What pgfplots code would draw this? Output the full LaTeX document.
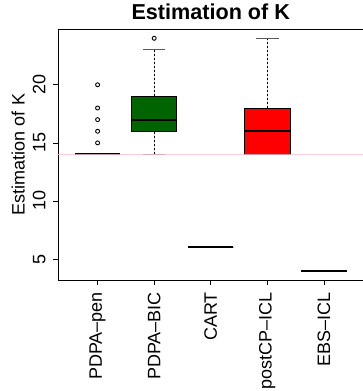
\documentclass[border=0pt]{standalone}
\usepackage{pgfplots}
\pgfplotsset{compat=1.18}
\usepgfplotslibrary{statistics}
\usepackage{fontspec}
\setmainfont{Liberation Sans}
\definecolor{rdarkgreen}{RGB}{0,100,0}
\definecolor{rpink}{RGB}{255,192,203}
\begin{document}
\begin{tikzpicture}
\begin{axis}[
  at={(58pt,111pt)}, anchor=south west,
  scale only axis, width=305.5pt, height=251pt,
  xmin=0.3, xmax=5.7, ymin=3.2, ymax=24.8,
  axis line style={line width=0.8pt},
  tick style={black, line width=0.7pt},
  tick align=outside, major tick length=5pt,
  xtick={1,2,3,4,5},
  xticklabels={PDPA–pen,PDPA–BIC,CART,postCP–ICL,EBS–ICL},
  ytick={5,10,15,20},
  xtick pos=bottom, ytick pos=left,
  /pgf/number format/assume math mode=true,
  tick label style={font=\fontsize{18}{20}\selectfont},
  xticklabel style={yshift=-7pt, rotate=90, anchor=east, inner sep=0pt},
  yticklabel style={xshift=-7.5pt, rotate=90, anchor=base, inner sep=0pt},
  title={Estimation of K},
  title style={at={(0.5,1)}, anchor=base, yshift=3pt, font=\bfseries\fontsize{21.6}{24}\selectfont},
  ylabel={Estimation of K},
  every axis y label/.style={at={(axis description cs:0,0.5)}, xshift=-33.5pt, rotate=90, anchor=base, font=\fontsize{18}{20}\selectfont},
  boxplot/draw direction=y,
  boxplot/box extend=0.8,
  boxplot/whisker extend=0.4,
  boxplot/every box/.style={draw=black, line width=0.8pt},
  boxplot/every median/.style={draw=black, line width=2pt},
  boxplot/draw/lower whisker/.code={%
    \draw[black, line width=0.7pt, dash pattern=on 2pt off 2pt]
      (boxplot cs:\pgfplotsboxplotvalue{lower whisker}) --
      (boxplot cs:\pgfplotsboxplotvalue{lower quartile});
    \draw[black!65, line width=0.9pt, solid]
      (boxplot whisker cs:\pgfplotsboxplotvalue{lower whisker},0) --
      (boxplot whisker cs:\pgfplotsboxplotvalue{lower whisker},1);
  },
  boxplot/draw/upper whisker/.code={%
    \draw[black, line width=0.7pt, dash pattern=on 2pt off 2pt]
      (boxplot cs:\pgfplotsboxplotvalue{upper whisker}) --
      (boxplot cs:\pgfplotsboxplotvalue{upper quartile});
    \draw[black!65, line width=0.9pt, solid]
      (boxplot whisker cs:\pgfplotsboxplotvalue{upper whisker},0) --
      (boxplot whisker cs:\pgfplotsboxplotvalue{upper whisker},1);
  },
]
% PDPA-pen
\addplot[boxplot prepared={lower whisker=14, lower quartile=14, median=14,
  upper quartile=14, upper whisker=14, draw position=1},
  draw=black, fill=white, mark=o, mark size=2pt, mark options={line width=0.9pt, solid}]
  coordinates {(0,15) (0,16) (0,17) (0,18) (0,20)};
% PDPA-BIC
\addplot[boxplot prepared={lower whisker=14, lower quartile=16, median=17,
  upper quartile=19, upper whisker=23, draw position=2},
  draw=black, fill=rdarkgreen, mark=o, mark size=2pt, mark options={line width=0.9pt, solid, fill=none}]
  coordinates {(0,24)};
% CART
\addplot[boxplot prepared={lower whisker=6, lower quartile=6, median=6,
  upper quartile=6, upper whisker=6, draw position=3},
  draw=black, fill=white]
  coordinates {};
% postCP-ICL
\addplot[boxplot prepared={lower whisker=14, lower quartile=14, median=16,
  upper quartile=18, upper whisker=24, draw position=4},
  draw=black, fill=red]
  coordinates {};
% EBS-ICL
\addplot[boxplot prepared={lower whisker=4, lower quartile=4, median=4,
  upper quartile=4, upper whisker=4, draw position=5},
  draw=black, fill=white]
  coordinates {};
% reference line at K = 14
\addplot[rpink, line width=0.9pt, opacity=0.8, no marks] coordinates {(0.3,14) (5.7,14)};
\end{axis}
\pgfresetboundingbox
\useasboundingbox (0,0) rectangle (362pt,391pt);
\end{tikzpicture}
\end{document}
